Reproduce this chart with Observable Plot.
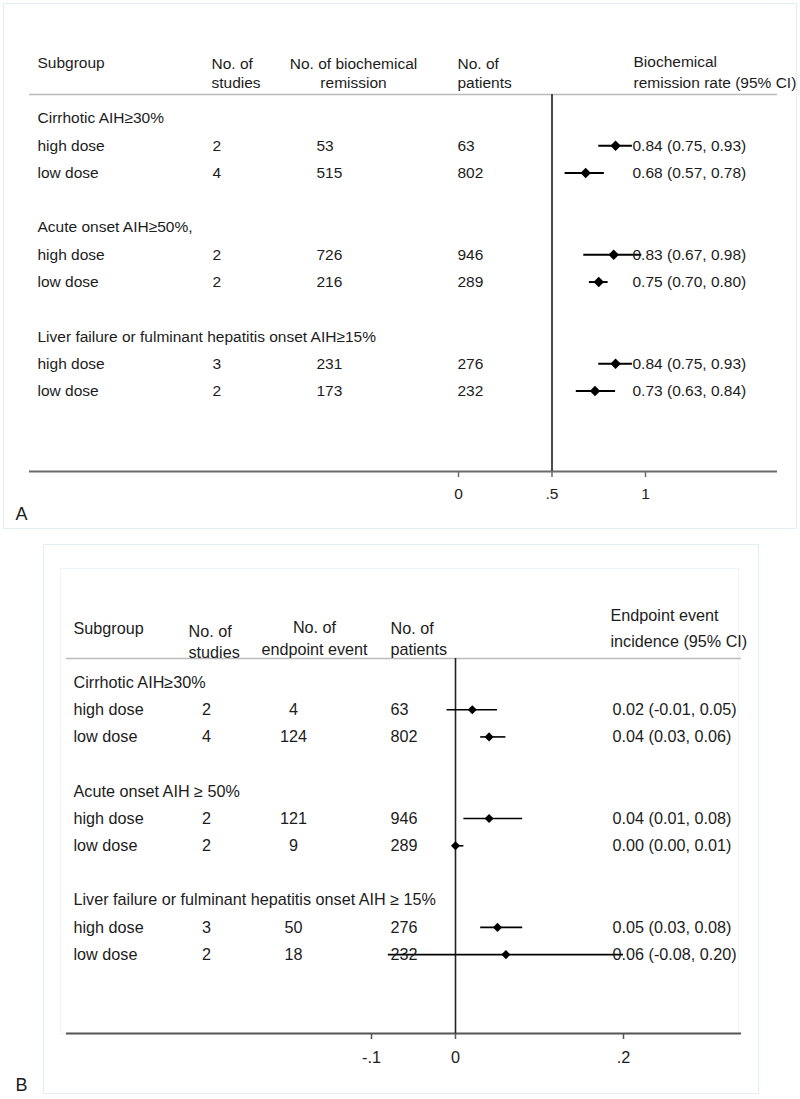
<!DOCTYPE html>
<html><head><meta charset="utf-8">
<script src="https://cdn.jsdelivr.net/npm/d3@7"></script>
<script src="https://cdn.jsdelivr.net/npm/@observablehq/plot@0.6"></script>
<style>
body{margin:0;background:#fff;}
#page{position:relative;width:800px;height:1099px;overflow:hidden;font-family:"Liberation Sans",Arial,sans-serif;background:#fff;}
.box{position:absolute;box-sizing:border-box;}
#pa,#pb{position:absolute;left:0;}
</style></head><body>
<div id="page">
 <div class="box" style="left:3px;top:3px;width:794px;height:526px;border:1.5px solid #e2eef0"></div>
 <div class="box" style="left:43px;top:544px;width:716px;height:550px;border:1.5px solid #e2eef0"></div>
 <div class="box" style="left:60px;top:568px;width:679px;height:466px;border:1px solid #ebf4f6"></div>
 <div id="pa" style="top:0"></div>
 <div id="pb" style="top:540px"></div>
</div>
<script>
// ---------- Panel A data ----------
const groupsA = ["Cirrhotic AIH≥30%", "Acute onset AIH≥50%,", "Liver failure or fulminant hepatitis onset AIH≥15%"];
const dosesA = ["high dose", "low dose", "high dose", "low dose", "high dose", "low dose"];
const studiesA = [2, 4, 2, 2, 3, 2];
const remissionA = [53, 515, 726, 216, 231, 173];
const patientsA = [63, 802, 946, 289, 276, 232];
const rateA = [0.84, 0.68, 0.83, 0.75, 0.84, 0.73];
const lowA = [0.75, 0.57, 0.67, 0.70, 0.75, 0.63];
const highA = [0.93, 0.78, 0.98, 0.80, 0.93, 0.84];
const tickValuesA = [0, 0.5, 1];
const tickLabelsA = ["0", ".5", "1"];
const refLineA = 0.5;
const headersA = ["Subgroup", "No. of\nstudies", "No. of biochemical\nremission", "No. of\npatients", "Biochemical\nremission rate (95% CI)"];

// ---------- Panel B data ----------
const groupsB = ["Cirrhotic AIH≥30%", "Acute onset AIH ≥ 50%", "Liver failure or fulminant hepatitis onset AIH ≥ 15%"];
const dosesB = ["high dose", "low dose", "high dose", "low dose", "high dose", "low dose"];
const studiesB = [2, 4, 2, 2, 3, 2];
const eventsB = [4, 124, 121, 9, 50, 18];
const patientsB = [63, 802, 946, 289, 276, 232];
const incidenceB = [0.02, 0.04, 0.04, 0.00, 0.05, 0.06];
const lowB = [-0.01, 0.03, 0.01, 0.00, 0.03, -0.08];
const highB = [0.05, 0.06, 0.08, 0.01, 0.08, 0.20];
const tickValuesB = [-0.1, 0, 0.2];
const tickLabelsB = ["-.1", "0", ".2"];
const refLineB = 0;
const headersB = ["Subgroup", "No. of\nstudies", "No. of\nendpoint event", "No. of\npatients", "Endpoint event\nincidence (95% CI)"];

// ---------- build rows ----------
function buildRows(groups, doses, studies, events, patients, est, lo, hi) {
  const groupRows = groups.map((g, i) => ({row: i * 4, label: g}));
  const itemRows = doses.map((d, i) => ({
    row: Math.floor(i / 2) * 4 + (i % 2) + 1,
    label: d, studies: studies[i], events: events[i], patients: patients[i],
    est: est[i], lo: lo[i], hi: hi[i],
    estText: `${est[i].toFixed(2)} (${lo[i].toFixed(2)}, ${hi[i].toFixed(2)})`
  }));
  return {groupRows, itemRows};
}

const font = '"Liberation Sans", Arial, sans-serif';
const ink = "#1c1c1c";

function forest(o) {
  const {groupRows, itemRows} = o.rows;
  const ml = o.margin.left;
  const col = (key, anchor, field) => Plot.text(itemRows, {
    y: "row", text: field, frameAnchor: "left", dx: o.cols[key] - ml,
    textAnchor: anchor, lineAnchor: "middle", fontSize: o.fs, fill: ink
  });
  const headerMarks = o.headers.map((h, i) => Plot.text([h], {
    text: d => d, frameAnchor: "top-left", dx: o.head[i].x - ml, dy: o.head[i].dy,
    textAnchor: o.head[i].anchor, lineAnchor: "middle", lineHeight: o.head[i].lh,
    fontSize: o.fs, fill: ink
  }));
  return Plot.plot({
    width: 800, height: o.height,
    marginLeft: o.margin.left, marginRight: o.margin.right,
    marginTop: o.margin.top, marginBottom: o.margin.bottom,
    style: {fontFamily: font, fontSize: o.fs + "px", color: ink, background: "transparent", overflow: "visible"},
    x: {domain: o.xDomain},
    y: {domain: o.yDomain, reverse: true, axis: null},
    marks: [
      Plot.ruleY([o.yDomain[0]], {stroke: o.headRule, strokeWidth: 1.6}),
      Plot.ruleY([o.yDomain[1]], {stroke: o.axisColor, strokeWidth: 2}),
      Plot.ruleX([o.refLine], {stroke: o.refColor, strokeWidth: o.refWidth}),
      Plot.axisX({ticks: o.tickValues, tickFormat: d => o.tickLabels[o.tickValues.indexOf(d)],
        tickSize: 6, tickPadding: o.tickPadding, fontSize: o.fs, stroke: o.axisColor, strokeWidth: 1.5,
        fill: ink, label: null, anchor: "bottom"}),
      Plot.ruleY(itemRows, {y: "row", x1: "lo", x2: "hi", stroke: "#000", strokeWidth: o.ciWidth}),
      Plot.dot(itemRows, {x: "est", y: "row", symbol: "diamond2", r: o.dotR, fill: "#000", stroke: "none"}),
      Plot.text(groupRows, {y: "row", text: "label", frameAnchor: "left", dx: o.cols.label - ml,
        textAnchor: "start", lineAnchor: "middle", fontSize: o.fs, fill: ink}),
      col("label", "start", "label"),
      col("studies", o.anchors.studies, "studies"),
      col("events", o.anchors.events, "events"),
      col("patients", "start", "patients"),
      col("est", "start", "estText"),
      ...headerMarks,
      Plot.text([o.letter], {text: d => d, frameAnchor: "bottom-left", dx: o.letterPos.dx, dy: o.letterPos.dy,
        textAnchor: "start", lineAnchor: "middle", fontSize: 18, fill: ink})
    ]
  });
}

const rowsA = buildRows(groupsA, dosesA, studiesA, remissionA, patientsA, rateA, lowA, highA);
const rowsB = buildRows(groupsB, dosesB, studiesB, eventsB, patientsB, incidenceB, lowB, highB);

// layout A: x(0)=458, 187 px per unit; frame 29..777, rows from 94 to 471
document.getElementById("pa").append(forest({
  rows: rowsA, headers: headersA, letter: "A", fs: 15.5,
  height: 530, margin: {left: 29, right: 23, top: 94, bottom: 59},
  xDomain: [(29 - 458) / 187, (777 - 458) / 187], yDomain: [-0.88, 12.95],
  cols: {label: 37, studies: 212, events: 316, patients: 457, est: 632},
  anchors: {studies: "start", events: "start"},
  head: [
    {x: 37, dy: -32, anchor: "start", lh: 1.2},
    {x: 211, dy: -22.5, anchor: "start", lh: 1.22},
    {x: 353, dy: -22.5, anchor: "middle", lh: 1.22},
    {x: 457, dy: -22.5, anchor: "start", lh: 1.22},
    {x: 633, dy: -23.5, anchor: "start", lh: 1.33}
  ],
  headRule: "#b9b9b9", axisColor: "#6b6b6b", refColor: "#4a4a4a", refWidth: 2,
  tickValues: tickValuesA, tickLabels: tickLabelsA, refLine: refLineA, tickPadding: 10,
  ciWidth: 2, dotR: 4.7, letterPos: {dx: -14, dy: 42.5}
}));

// layout B: x(0)=455, 840 px per unit; frame 66..741, rows from 658 to 1033 (page)
document.getElementById("pb").append(forest({
  rows: rowsB, headers: headersB, letter: "B", fs: 16.2,
  height: 559, margin: {left: 66, right: 59, top: 118, bottom: 66},
  xDomain: [(66 - 455) / 840, (741 - 455) / 840], yDomain: [-0.882, 12.9],
  cols: {label: 73, studies: 206, events: 293, patients: 390, est: 612},
  anchors: {studies: "middle", events: "middle"},
  head: [
    {x: 73, dy: -31, anchor: "start", lh: 1.2},
    {x: 188, dy: -17.5, anchor: "start", lh: 1.3},
    {x: 314, dy: -22, anchor: "middle", lh: 1.36},
    {x: 390, dy: -20.5, anchor: "start", lh: 1.3},
    {x: 610, dy: -33, anchor: "start", lh: 1.6}
  ],
  headRule: "#bcbcbc", axisColor: "#555", refColor: "#222", refWidth: 1.6,
  tickValues: tickValuesB, tickLabels: tickLabelsB, refLine: refLineB, tickPadding: 12,
  ciWidth: 1.6, dotR: 4.1, letterPos: {dx: -51, dy: 51.5}
}));
</script>
</body></html>
